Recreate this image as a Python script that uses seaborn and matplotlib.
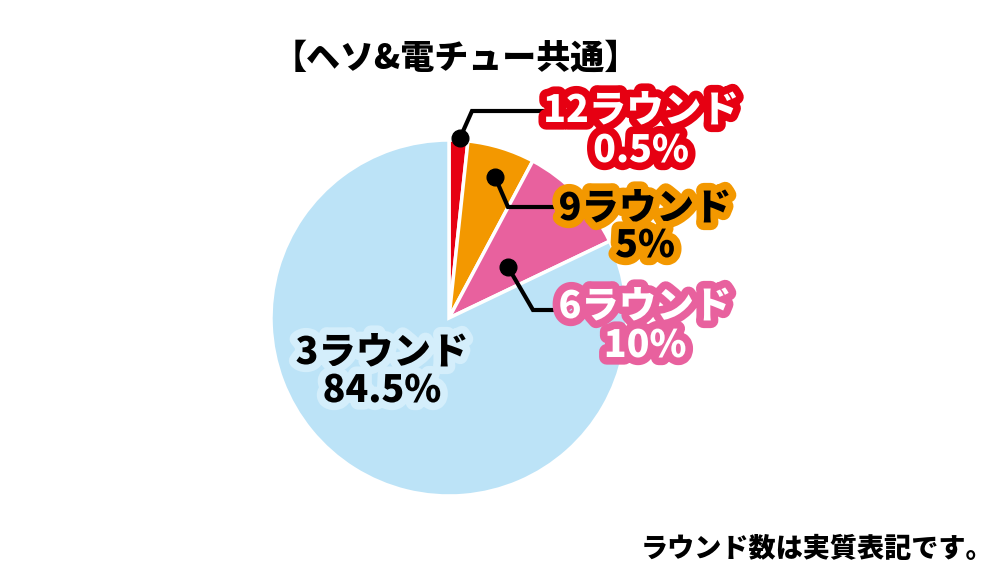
import matplotlib
matplotlib.use("Agg")
import matplotlib.pyplot as plt
import matplotlib.patheffects as pe
import seaborn as sns

# ---- data ----
categories = ["12ラウンド", "9ラウンド", "6ラウンド", "3ラウンド"]
percent_labels = ["0.5%", "5%", "10%", "84.5%"]
# wedge sizes as drawn in the reference picture (small slices are visually enlarged)
wedge_shares = [1.7, 6.1, 10.1, 82.1]
title_text = "【ヘソ&電チュー共通】"
note_text = "ラウンド数は実質表記です。"

colors = ["#E60012", "#F39800", "#E8619E", "#BCE3F7"]

sns.set_theme(style="white")
plt.rcParams['font.family'] = ['Noto Sans CJK JP', 'DejaVu Sans']

W, H = 1000, 577
fig = plt.figure(figsize=(W / 100, H / 100), dpi=100)
ax = fig.add_axes([0, 0, 1, 1])
ax.set_xlim(0, W)
ax.set_ylim(0, H)
ax.set_aspect('equal')
ax.axis('off')

def Y(y):
    return H - y

cx, cy, r = 449, 318, 178
explode = [0.025, 0.025, 0.025, 0.0]
wedges, _ = ax.pie(wedge_shares, colors=colors, startangle=90, counterclock=False,
                   center=(cx, Y(cy)), radius=r, explode=explode,
                   wedgeprops=dict(edgecolor="white", linewidth=2.5))
ax.set_xlim(0, W)
ax.set_ylim(0, H)

# leader lines: (dot, elbow, end)
leaders = [
    [(460, 138), (472, 111), (545, 111)],
    [(495, 177), (508, 207), (565, 207)],
    [(508, 267), (533, 310), (565, 310)],
]
for pts in leaders:
    xs = [p[0] for p in pts]
    ys = [Y(p[1]) for p in pts]
    ax.plot(xs, ys, color="black", lw=3, solid_capstyle="butt", solid_joinstyle="miter", zorder=5)
    ax.plot([xs[0]], [ys[0]], "o", color="black", ms=12, zorder=6)

fs = 27
# label settings: (center x, y line1, y line2, text color, outline color)
label_style = [
    (641, 111, 151, "white", colors[0]),
    (645, 209, 246, "black", colors[1]),
    (645, 307, 346, "white", colors[2]),
    (382, 353, 391, "black", "#D4EEFB"),
]
for cat, pct, (lx, y1, y2, tc, oc) in zip(categories, percent_labels, label_style):
    for txt, yy in ((cat, y1), (pct, y2)):
        ax.text(lx, Y(yy), txt, ha="center", va="center", fontsize=fs,
                fontweight="black", color=tc, zorder=8,
                path_effects=[pe.withStroke(linewidth=11, foreground=oc)])

ax.text(456, Y(58), title_text, ha="center", va="center", fontsize=24.5,
        fontweight="black", color="black")
ax.text(993, Y(549), note_text, ha="right", va="center", fontsize=19.5,
        fontweight="black", color="black")

fig.savefig("out.png", dpi=100)
